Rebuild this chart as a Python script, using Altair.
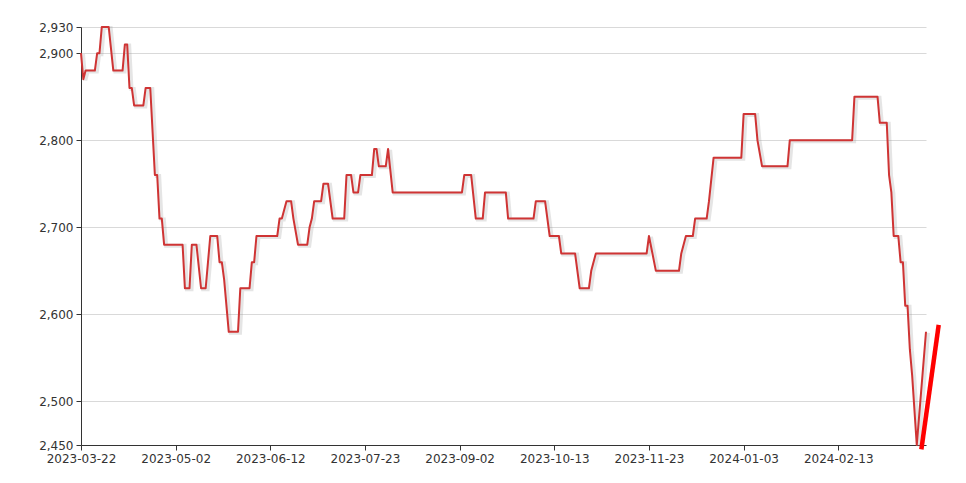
import altair as alt
import pandas as pd

dates = [
    "2023-03-22", "2023-03-23", "2023-03-24", "2023-03-28", "2023-03-29", "2023-03-30",
    "2023-03-31", "2023-04-03", "2023-04-05", "2023-04-09", "2023-04-10", "2023-04-11",
    "2023-04-12", "2023-04-13", "2023-04-14", "2023-04-18", "2023-04-19", "2023-04-21",
    "2023-04-23", "2023-04-24", "2023-04-25", "2023-04-26", "2023-04-27", "2023-05-05",
    "2023-05-06", "2023-05-08", "2023-05-09", "2023-05-11", "2023-05-13", "2023-05-15",
    "2023-05-16", "2023-05-17", "2023-05-20", "2023-05-21", "2023-05-22", "2023-05-23",
    "2023-05-25", "2023-05-29", "2023-05-30", "2023-06-03", "2023-06-04", "2023-06-05",
    "2023-06-06", "2023-06-15", "2023-06-16", "2023-06-17", "2023-06-19", "2023-06-21",
    "2023-06-22", "2023-06-24", "2023-06-28", "2023-06-29", "2023-06-30", "2023-07-01",
    "2023-07-04", "2023-07-05", "2023-07-07", "2023-07-09", "2023-07-14", "2023-07-15",
    "2023-07-17", "2023-07-18", "2023-07-20", "2023-07-21", "2023-07-26", "2023-07-27",
    "2023-07-28", "2023-07-29", "2023-08-01", "2023-08-02", "2023-08-04", "2023-09-03",
    "2023-09-04", "2023-09-07", "2023-09-09", "2023-09-12", "2023-09-13", "2023-09-22",
    "2023-09-23", "2023-10-04", "2023-10-05", "2023-10-09", "2023-10-11", "2023-10-15",
    "2023-10-16", "2023-10-22", "2023-10-24", "2023-10-28", "2023-10-29", "2023-10-31",
    "2023-11-22", "2023-11-23", "2023-11-26", "2023-12-06", "2023-12-07", "2023-12-09",
    "2023-12-12", "2023-12-13", "2023-12-18", "2023-12-19", "2023-12-21", "2024-01-02",
    "2024-01-03", "2024-01-08", "2024-01-09", "2024-01-11", "2024-01-22", "2024-01-23",
    "2024-02-19", "2024-02-20", "2024-03-01", "2024-03-02", "2024-03-05", "2024-03-06",
    "2024-03-07", "2024-03-08", "2024-03-10", "2024-03-11", "2024-03-12", "2024-03-13",
    "2024-03-14", "2024-03-15", "2024-03-16", "2024-03-18", "2024-03-22",
]
prices = [
    2900, 2870, 2880, 2880, 2900, 2900,
    2930, 2930, 2880, 2880, 2910, 2910,
    2860, 2860, 2840, 2840, 2860, 2860,
    2760, 2760, 2710, 2710, 2680, 2680,
    2630, 2630, 2680, 2680, 2630, 2630,
    2660, 2690, 2690, 2660, 2660, 2640,
    2580, 2580, 2630, 2630, 2660, 2660,
    2690, 2690, 2710, 2710, 2730, 2730,
    2710, 2680, 2680, 2700, 2710, 2730,
    2730, 2750, 2750, 2710, 2710, 2760,
    2760, 2740, 2740, 2760, 2760, 2790,
    2790, 2770, 2770, 2790, 2740, 2740,
    2760, 2760, 2710, 2710, 2740, 2740,
    2710, 2710, 2730, 2730, 2690, 2690,
    2670, 2670, 2630, 2630, 2650, 2670,
    2670, 2690, 2650, 2650, 2670, 2690,
    2690, 2710, 2710, 2730, 2780, 2780,
    2830, 2830, 2800, 2770, 2770, 2800,
    2800, 2850, 2850, 2820, 2820, 2760,
    2740, 2690, 2690, 2660, 2660, 2610,
    2610, 2560, 2530, 2450, 2580,
]

proj_dates = ["2024-03-20T00:00:00Z", "2024-03-27T12:00:00Z"]
proj_values = [2445, 2588]

y_ticks = [2450, 2500, 2600, 2700, 2800, 2900, 2930]
x_ticks = ["2023-03-22", "2023-05-02", "2023-06-12", "2023-07-23", "2023-09-02",
           "2023-10-13", "2023-11-23", "2024-01-03", "2024-02-13"]
x_start = "2023-03-22"
x_end = "2024-03-22"


def dt(s):
    y, m, d = (int(p) for p in s.split("-"))
    return alt.DateTime(year=y, month=m, date=d, utc=True)


df = pd.DataFrame({"date": dates, "price": prices})
proj = pd.DataFrame({"date": proj_dates, "price": proj_values})

FONT = "DejaVu Sans"

x_enc = alt.X(
    "date:T",
    scale=alt.Scale(type="utc", domain=[dt(x_start), dt(x_end)]),
    axis=alt.Axis(
        values=[dt(s) for s in x_ticks],
        labelExpr="utcFormat(datum.value, '%Y-%m-%d')",
        title=None,
        grid=False,
        domainColor="#333333",
        tickColor="#333333",
        tickSize=5,
        labelPadding=3,
        labelColor="#333333",
        labelFont=FONT,
        labelFontSize=12,
        labelFlush=False,
        labelOverlap=False,
    ),
)
y_enc = alt.Y(
    "price:Q",
    scale=alt.Scale(domain=[2450, 2930], nice=False, zero=False),
    axis=alt.Axis(
        values=y_ticks,
        labelExpr="format(datum.value, ',')",
        title=None,
        grid=True,
        gridColor="#d9d9d9",
        domainColor="#333333",
        tickColor="#333333",
        tickSize=5,
        labelPadding=3,
        labelColor="#333333",
        labelFont=FONT,
        labelFontSize=12,
        labelFlush=False,
        labelOverlap=False,
    ),
)

shadow = alt.Chart(df).mark_line(
    color="#999999", opacity=0.25, strokeWidth=4, xOffset=2, yOffset=1
)

main = alt.Chart(df).mark_line(
    color="#cf3434", strokeWidth=2, strokeJoin="round"
)

forecast = alt.Chart(proj).mark_line(
    color="#ff0000", strokeWidth=4.5, clip=False
)

chart = alt.layer(shadow, main, forecast).encode(x=x_enc, y=y_enc).properties(
    width=845,
    height=418,
    autosize=alt.AutoSizeParams(type="none"),
    padding={"left": 73, "top": 19, "right": 30, "bottom": 30},
    background="white",
).configure_view(stroke=None)

chart.save("out.html", embed_options={"renderer": "svg", "actions": False})
